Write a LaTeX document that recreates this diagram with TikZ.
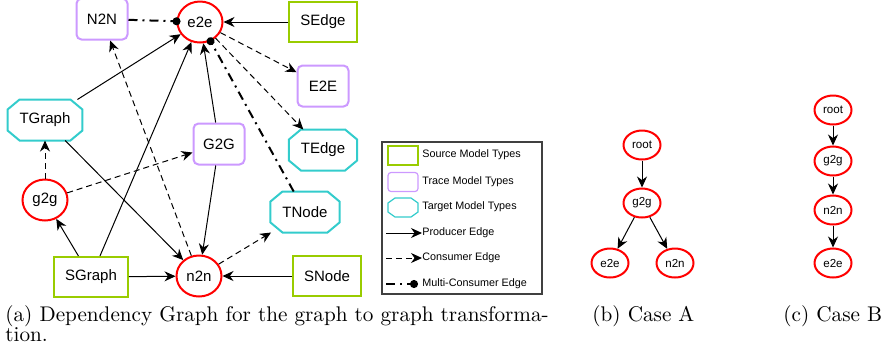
\documentclass[tikz,border=0pt]{standalone}
\usepackage{fontspec}
\newfontfamily\arial{Liberation Sans}
\usetikzlibrary{shapes.geometric, arrows.meta}

\definecolor{srcgreen}{RGB}{153,204,0}
\definecolor{trpurple}{RGB}{204,153,255}
\definecolor{tgtcyan}{RGB}{51,204,204}

\tikzset{
    box/.style={fill=white, line width=1pt, font=\arial\fontsize{7.5}{9}\selectfont},
    octagon/.style n args={3}{fill=none, append after command={\pgfextra{
        \draw[tgtcyan, fill=white, line width=#3]
            ([xshift=#1]\tikzlastnode.north west) -- ([xshift=-#1]\tikzlastnode.north east)
            -- ([yshift=-#2]\tikzlastnode.north east) -- ([yshift=#2]\tikzlastnode.south east)
            -- ([xshift=-#1]\tikzlastnode.south east) -- ([xshift=#1]\tikzlastnode.south west)
            -- ([yshift=#2]\tikzlastnode.south west) -- ([yshift=-#2]\tikzlastnode.north west) -- cycle;}}},
    src/.style={box, draw=srcgreen, rectangle, inner xsep=5.5pt, minimum height=20pt},
    trace/.style={box, draw=trpurple, rectangle, rounded corners=2.5pt, minimum width=25.5pt, minimum height=20.5pt},
    tgt/.style={box, rectangle, inner xsep=6pt, minimum height=20.5pt, outer sep=0pt, octagon={6pt}{5pt}{1pt}},
    rule/.style={box, draw=red, ellipse, inner sep=0pt, minimum width=22.5pt, minimum height=20.5pt},
    caserule/.style={rule, minimum width=18.5pt, minimum height=14.5pt, font=\arial\fontsize{5.8}{7}\selectfont},
    swatch/.style={line width=0.6pt, minimum width=15pt, minimum height=9.5pt, inner sep=0pt},
    legtext/.style={anchor=west, inner sep=0pt, font=\arial\fontsize{5.4}{6.5}\selectfont},
    prod/.style={-{Stealth[length=5.5pt, width=5pt]}, line width=0.5pt},
    cons/.style={prod, dash pattern=on 3pt off 2pt},
    multi/.style={-{Circle[length=4pt]}, line width=1pt, dash pattern=on 4.5pt off 2.5pt on 1pt off 2.5pt, shorten >=-2pt},
    caption/.style={anchor=base west, inner sep=0pt, font=\fontsize{10.6}{10.6}\selectfont}
}

\begin{document}
\begin{tikzpicture}[x=0.5pt, y=-0.5pt]
    \useasboundingbox (0,0) rectangle (881,350);

    \node[trace] (N2N) at (102,19) {N2N};
    \node[rule] (e2e) at (200,22) {e2e};
    \node[src] (SEdge) at (323,22) {SEdge};
    \node[trace] (E2E) at (323,86) {E2E};
    \node[tgt] (TGraph) at (45,120) {TGraph};
    \node[trace] (G2G) at (219,144) {G2G};
    \node[tgt] (TEdge) at (323,150) {TEdge};
    \node[rule] (g2g) at (45,200) {g2g};
    \node[tgt] (TNode) at (305,212) {TNode};
    \node[src] (SGraph) at (91,277) {SGraph};
    \node[rule] (n2n) at (199,276) {n2n};
    \node[src] (SNode) at (327,276) {SNode};

    \draw[prod] (SEdge) -- (e2e);
    \draw[prod] (TGraph) -- (e2e);
    \draw[prod] (SGraph) -- (e2e);
    \draw[prod] (G2G) -- (e2e);
    \draw[prod] (G2G) -- (n2n);
    \draw[prod] (TGraph) -- (n2n);
    \draw[prod] (SGraph) -- (g2g);
    \draw[prod] (SGraph) -- (n2n);
    \draw[prod] (SNode) -- (n2n);
    \draw[cons] (e2e) -- (E2E);
    \draw[cons] (e2e) -- (TEdge);
    \draw[cons] (n2n) -- (N2N);
    \draw[cons] (g2g) -- (TGraph);
    \draw[cons] (g2g) -- (G2G);
    \draw[cons] (n2n) -- (TNode);
    \draw[multi] (N2N) -- (e2e);
    \draw[multi] (TNode) -- (e2e);

    \draw[line width=0.6pt, black!75] (382,142) rectangle (542,294);
    \node[swatch, draw=srcgreen] (lsrc) at (403,155.5) {};
    \node[swatch, draw=trpurple, rounded corners=1.5pt] (ltrace) at (403,182) {};
    \node[swatch, outer sep=0pt, octagon={3.5pt}{2.5pt}{0.6pt}] (ltgt) at (403,207.5) {};
    \node[legtext] at (422,155) {Source Model Types};
    \node[legtext] at (422,182) {Trace Model Types};
    \node[legtext] at (422,207) {Target Model Types};
    \node[legtext] (lprod) at (422,233) {Producer Edge};
    \node[legtext] (lcons) at (422,258) {Consumer Edge};
    \node[legtext] (lmulti) at (422,284) {Multi-Consumer Edge};
    \coordinate (lp) at (386,233);
    \coordinate (lc) at (386,258);
    \coordinate (lm) at (386,284);
    \draw[prod] (lp) -- (lprod.west);
    \draw[cons] (lc) -- (lcons.west);
    \draw[multi, shorten >=0pt] (lm) -- ([xshift=-2pt]lmulti.west);

    \node[caserule] (rootA) at (642,145) {root};
    \node[caserule] (g2gA) at (642,203) {g2g};
    \node[caserule] (e2eA) at (610,263) {e2e};
    \node[caserule] (n2nA) at (675,263) {n2n};
    \draw[prod] (rootA) -- (g2gA);
    \draw[prod] (g2gA) -- (e2eA);
    \draw[prod] (g2gA) -- (n2nA);

    \node[caserule] (rootB) at (833,110) {root};
    \node[caserule] (g2gB) at (833,161) {g2g};
    \node[caserule] (n2nB) at (833,210) {n2n};
    \node[caserule] (e2eB) at (833,263) {e2e};
    \foreach \a/\b in {rootB/g2gB, g2gB/n2nB, n2nB/e2eB}
        \draw[prod] (\a) -- (\b);

    \node[caption] (capA) at (5,321) {(a) Dependency Graph for the graph to graph transforma-};
    \node[caption] (capA2) at (5,341) {tion.};
    \node[caption] (capB) at (592,321) {(b) Case A};
    \node[caption] (capC) at (783,321) {(c) Case B};
\end{tikzpicture}
\end{document}
